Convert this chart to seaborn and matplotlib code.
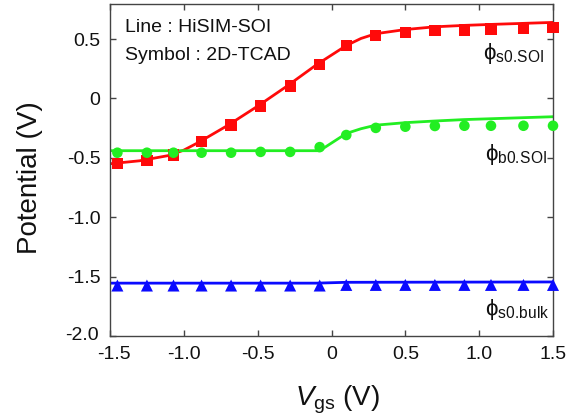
import matplotlib
matplotlib.use("Agg")
import matplotlib.pyplot as plt
import matplotlib.transforms as mtransforms
import seaborn as sns
import pandas as pd

# ---- data ----
vgs_sym = [-1.45, -1.25, -1.07, -0.88, -0.68, -0.48, -0.28, -0.08,
           0.10, 0.30, 0.50, 0.70, 0.90, 1.08, 1.30, 1.50]
phi_s0_soi_sym = [-0.546, -0.524, -0.476, -0.364, -0.224, -0.064, 0.104, 0.287,
                  0.445, 0.531, 0.553, 0.570, 0.576, 0.584, 0.590, 0.598]
phi_b0_soi_sym = [-0.457, -0.457, -0.457, -0.457, -0.457, -0.450, -0.450, -0.410,
                  -0.308, -0.248, -0.238, -0.232, -0.230, -0.230, -0.230, -0.230]
phi_s0_bulk_sym = [-1.575, -1.575, -1.575, -1.575, -1.575, -1.575, -1.575, -1.575,
                   -1.570, -1.570, -1.570, -1.570, -1.570, -1.570, -1.570, -1.570]

vgs_red_line = [-1.5, -1.3, -1.1, -1.0, -0.9, -0.7, -0.5, -0.3, -0.1, 0.1, 0.2,
                0.3, 0.5, 0.7, 0.9, 1.1, 1.3, 1.5]
phi_s0_soi_line = [-0.55, -0.525, -0.48, -0.435, -0.37, -0.225, -0.065, 0.105, 0.285,
                   0.445, 0.505, 0.545, 0.58, 0.603, 0.615, 0.624, 0.632, 0.64]
vgs_green_line = [-1.5, -0.08, 0.1, 0.2, 0.3, 0.5, 0.7, 0.9, 1.1, 1.3, 1.5]
phi_b0_soi_line = [-0.44, -0.44, -0.295, -0.255, -0.225, -0.204, -0.19, -0.178,
                   -0.17, -0.162, -0.154]
vgs_blue_line = [-1.5, -0.1, 0.1, 1.5]
phi_s0_bulk_line = [-1.555, -1.555, -1.548, -1.545]

xticks = [-1.5, -1.0, -0.5, 0.0, 0.5, 1.0, 1.5]
xticklabels = ["-1.5", "-1.0", "-0.5", "0", "0.5", "1.0", "1.5"]
yticks = [-2.0, -1.5, -1.0, -0.5, 0.0, 0.5]
yticklabels = ["-2.0", "-1.5", "-1.0", "-0.5", "0", "0.5"]

RED = "#ff0a0a"
GREEN = "#22ee22"
BLUE = "#0a0aff"

sns.set_theme(style="ticks")
plt.rcParams["font.family"] = ["Liberation Sans", "DejaVu Sans"]
plt.rcParams["mathtext.fontset"] = "custom"
plt.rcParams["mathtext.rm"] = "Liberation Sans"
plt.rcParams["mathtext.it"] = "Liberation Sans:italic"
plt.rcParams["mathtext.bf"] = "Liberation Sans:bold"

fig = plt.figure(figsize=(5.85, 4.19), dpi=100)
ax = fig.add_axes([110 / 585, 1 - 336 / 419, 443 / 585, 332 / 419])

# lines
sns.lineplot(x=vgs_red_line, y=phi_s0_soi_line, ax=ax, color=RED, lw=2.0, sort=False)
sns.lineplot(x=vgs_green_line, y=phi_b0_soi_line, ax=ax, color=GREEN, lw=2.0, sort=False)
sns.lineplot(x=vgs_blue_line, y=phi_s0_bulk_line, ax=ax, color=BLUE, lw=2.0, sort=False)

# symbols
sns.scatterplot(x=vgs_sym, y=phi_s0_soi_sym, ax=ax, marker="s", s=66, color=RED,
                edgecolor="none", clip_on=False, zorder=3)
sns.scatterplot(x=vgs_sym, y=phi_b0_soi_sym, ax=ax, marker="o", s=58, color=GREEN,
                edgecolor="none", clip_on=False, zorder=3)
sns.scatterplot(x=vgs_sym, y=phi_s0_bulk_sym, ax=ax, marker="^", s=75, color=BLUE,
                edgecolor="none", clip_on=False, zorder=3)

ax.set_xlim(-1.5, 1.5)
ax.set_ylim(-2.0, 0.795)
ax.set_xticks(xticks)
ax.set_xticklabels(xticklabels)
ax.set_yticks(yticks)
ax.set_yticklabels(yticklabels)

spine_c = "#444444"
for sp in ax.spines.values():
    sp.set_visible(True)
    sp.set_color(spine_c)
    sp.set_linewidth(1.0)
ax.tick_params(direction="in", length=4, width=1.0, color=spine_c,
               top=True, right=True, labelsize=14, labelcolor="#111111")
ax.tick_params(axis="x", pad=7)
ax.tick_params(axis="y", pad=7)

ax.set_xlabel(r"$V_{\mathrm{gs}}$ (V)", fontsize=20, color="#111111")
ax.set_ylabel("Potential (V)", fontsize=20, color="#111111")
ax.xaxis.set_label_coords(0.513, -0.145)
ax.yaxis.set_label_coords(-0.152, 0.476)

# small offsets of corner labels as in the reference
lbl = ax.get_yticklabels()[0]
lbl.set_transform(lbl.get_transform() +
                  mtransforms.ScaledTranslation(-0.02, 0.03, fig.dpi_scale_trans))
xl = ax.get_xticklabels()[0]
xl.set_transform(xl.get_transform() +
                 mtransforms.ScaledTranslation(0.04, 0, fig.dpi_scale_trans))

ax.text(0.034, 0.928, "Line : HiSIM-SOI", transform=ax.transAxes, fontsize=14,
        va="center", ha="left", color="#111111")
ax.text(0.034, 0.846, "Symbol : 2D-TCAD", transform=ax.transAxes, fontsize=14,
        va="center", ha="left", color="#111111")

ax.text(0.98, 0.852, r"$\mathrm{\phi}_{\mathrm{s0.\!SOI}}$", transform=ax.transAxes,
        fontsize=16, ha="right", va="center", color="#111111")
ax.text(0.986, 0.548, r"$\mathrm{\phi}_{\mathrm{b0.\!SOI}}$", transform=ax.transAxes,
        fontsize=16, ha="right", va="center", color="#111111")
ax.text(0.991, 0.081, r"$\mathrm{\phi}_{\mathrm{s0.\!bulk}}$", transform=ax.transAxes,
        fontsize=16, ha="right", va="center", color="#111111")

fig.savefig("out.png", dpi=100)
